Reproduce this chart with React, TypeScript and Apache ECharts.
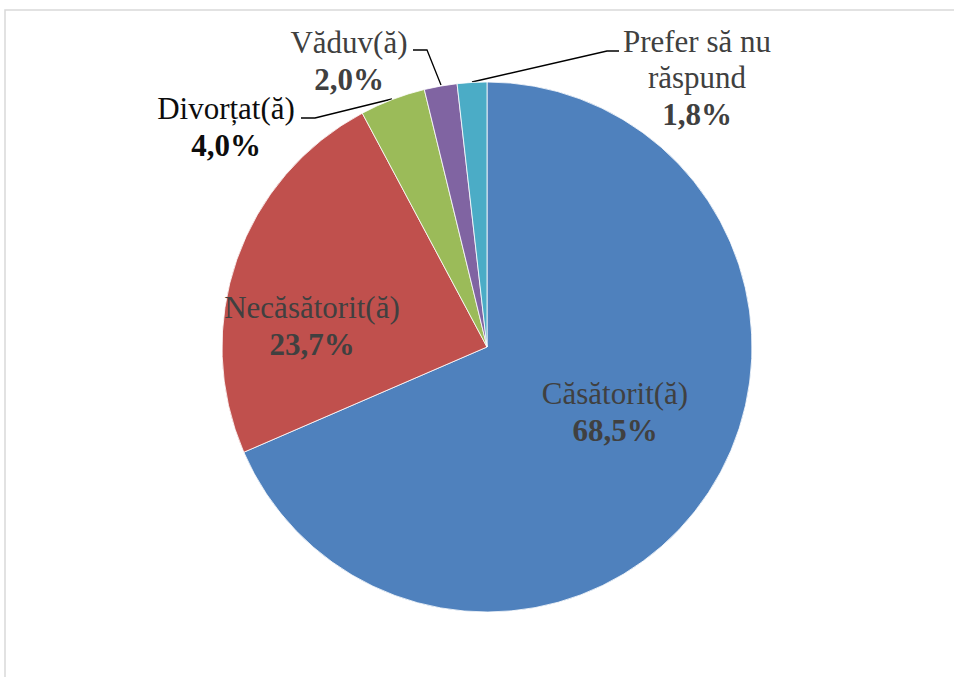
import React, { useEffect, useRef } from "react";
import * as echarts from "echarts";

const categories = ["Căsătorit(ă)", "Necăsătorit(ă)", "Divorțat(ă)", "Văduv(ă)", "Prefer să nu răspund"];
const labelNames = ["Căsătorit(ă)", "Necăsătorit(ă)", "Divorțat(ă)", "Văduv(ă)", "Prefer să nu\nrăspund"];
const values = [68.5, 23.7, 4.0, 2.0, 1.8];
const colors = ["#4f81bd", "#c0504d", "#9bbb59", "#8064a2", "#4bacc6"];
const textColors = ["#404040", "#404040", "#0d0d0d", "#404040", "#404040"];

// label block centres and leader line points (layout only)
const labelPos: [number, number][] = [
  [615, 412],
  [312, 326],
  [226, 127],
  [349, 61],
  [697, 78],
];
const leaderLines: ([number, number][] | null)[] = [
  null,
  null,
  [[392, 99], [315, 118], [301, 118]],
  [[441, 85], [427, 50], [413, 50]],
  [[472, 82], [607, 51], [619, 51]],
];

const FONT = "Liberation Serif";

export default function App() {
  const ref = useRef<HTMLDivElement>(null);
  useEffect(() => {
    if (!ref.current) return;
    const chart = echarts.init(ref.current, null, { renderer: "svg" });
    const fmt = (v: number) => v.toFixed(1).replace(".", ",") + "%";
    chart.setOption({
      animation: false,
      backgroundColor: "#ffffff",
      textStyle: { fontFamily: FONT },
      graphic: [
        {
          type: "rect",
          shape: { x: 5, y: 10, width: 980, height: 720 },
          style: { fill: "none", stroke: "#d9d9d9", lineWidth: 1.5 },
          silent: true,
        },
      ],
      series: [
        {
          type: "pie",
          center: [487, 347],
          radius: [0, 265],
          startAngle: 90,
          clockwise: true,
          avoidLabelOverlap: false,
          itemStyle: { borderColor: "#ffffff", borderWidth: 0.8 },
          data: categories.map((c, i) => {
            const txt = labelNames[i].split("\n");
            return {
              name: c,
              value: values[i],
              itemStyle: { color: colors[i] },
              label: {
                show: true,
                position: i < 2 ? "inside" : "outside",
                fontFamily: FONT,
                fontSize: 31,
                color: textColors[i],
                formatter: () =>
                  txt.map((t) => `{n|${t}}`).join("\n") + `\n{v|${fmt(values[i])}}`,
                rich: {
                  n: {
                    fontFamily: FONT,
                    fontSize: 31,
                    lineHeight: 36,
                    color: textColors[i],
                    align: "center",
                  },
                  v: {
                    fontFamily: FONT,
                    fontSize: 31,
                    fontWeight: "bold",
                    lineHeight: 38,
                    color: textColors[i],
                    align: "center",
                  },
                },
              },
              labelLine: {
                show: i >= 2,
                lineStyle: { color: "#000000", width: 1.3 },
              },
            };
          }),
          labelLayout: (params: any) => {
            const i = params.dataIndex;
            const out: any = {
              x: labelPos[i][0],
              y: labelPos[i][1],
              align: "center",
              verticalAlign: "middle",
            };
            if (leaderLines[i]) out.labelLinePoints = leaderLines[i];
            return out;
          },
        },
      ],
    });
    return () => chart.dispose();
  }, []);
  return (
    <div
      ref={ref}
      style={{ position: "fixed", left: 0, top: 0, width: 954, height: 677, fontFamily: FONT }}
    />
  );
}
